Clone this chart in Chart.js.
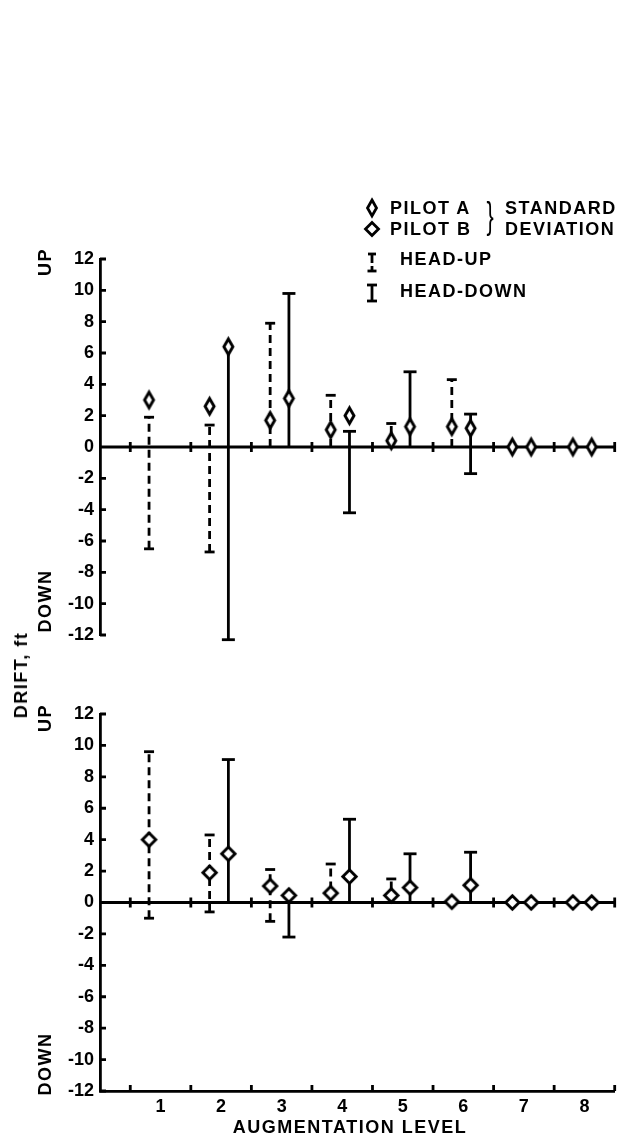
<!DOCTYPE html>
<html>
<head>
<meta charset="utf-8">
<script src="https://cdn.jsdelivr.net/npm/chart.js@4.4.1/dist/chart.umd.min.js"></script>
<style>
html,body{margin:0;padding:0;background:#fff;}
body{width:624px;height:1143px;position:relative;overflow:hidden;}
canvas{position:absolute;left:0;}
.t{position:absolute;white-space:nowrap;font-family:"Liberation Sans",Arial,sans-serif;font-weight:bold;font-size:18px;line-height:18px;letter-spacing:1.5px;color:#000;}
.rot{transform:translate(-50%,-50%) rotate(-90deg);}
.ctr{transform:translate(-50%,-50%);}
.brace{position:absolute;font-family:"Liberation Sans",Arial,sans-serif;font-weight:normal;font-size:36px;line-height:36px;color:#000;transform:translate(-50%,-50%) scaleX(0.6);}
svg{position:absolute;overflow:visible;}
</style>
</head>
<body>
<canvas id="topChart" width="624" height="660" style="top:0px;width:624px;height:660px"></canvas>
<canvas id="botChart" width="624" height="483" style="top:660px;width:624px;height:483px"></canvas>

<!-- axis side labels -->
<div class="t rot" style="left:21px;top:675px">DRIFT, ft</div>
<div class="t rot" style="left:45px;top:262px">UP</div>
<div class="t rot" style="left:45px;top:601px">DOWN</div>
<div class="t rot" style="left:45px;top:718px">UP</div>
<div class="t rot" style="left:45px;top:1064px">DOWN</div>
<div class="t ctr" style="left:350px;top:1127px">AUGMENTATION LEVEL</div>

<!-- legend -->
<svg style="left:355px;top:190px" width="150" height="120" viewBox="0 0 150 120">
  <polygon points="17,10 21.5,18 17,26 12.5,18" fill="#fff" stroke="#000" stroke-width="2.8"/>
  <polygon points="17,32.5 23.5,39 17,45.5 10.5,39" fill="#fff" stroke="#000" stroke-width="2.8"/>
  <g stroke="#000" stroke-width="2.8" fill="none">
    <line x1="13" y1="64" x2="21" y2="64"/>
    <line x1="17" y1="64" x2="17" y2="73"/>
    <line x1="17" y1="76" x2="17" y2="81"/>
    <line x1="12.5" y1="81" x2="21.5" y2="81"/>
    <line x1="12" y1="95" x2="22" y2="95"/>
    <line x1="17" y1="95" x2="17" y2="111"/>
    <line x1="12" y1="111" x2="22" y2="111"/>
  </g>
</svg>
<div class="t" style="left:390px;top:199px">PILOT A</div>
<div class="t" style="left:390px;top:220px">PILOT B</div>
<div class="brace" style="left:490px;top:216px">}</div>
<div class="t" style="left:505px;top:199px">STANDARD</div>
<div class="t" style="left:505px;top:220px">DEVIATION</div>
<div class="t" style="left:400px;top:250px">HEAD-UP</div>
<div class="t" style="left:400px;top:282px">HEAD-DOWN</div>

<script>
// ---------------- data ----------------
const levels = [1, 2, 3, 4, 5, 6, 7, 8];
const xTickLabels = ['1', '2', '3', '4', '5', '6', '7', '8'];
const xTickMarks = [0.5, 1.5, 2.5, 3.5, 4.5, 5.5, 6.5, 7.5, 8.5];
const yTicks = [-12, -10, -8, -6, -4, -2, 0, 2, 4, 6, 8, 10, 12];

// Pilot A (upper panel): standard deviation markers and bar ends
const pilotA_headUpSD    = [3.0, 2.6, 1.7, 1.1, 0.4, 1.3, 0.0, 0.0];
const pilotA_headUpLow   = [-6.5, -6.7, 0, 0, 0, 0, null, null];
const pilotA_headUpHigh  = [1.9, 1.4, 7.9, 3.3, 1.5, 4.3, null, null];
const pilotA_headDownSD   = [null, 6.4, 3.1, 2.0, 1.3, 1.2, 0.0, 0.0];
const pilotA_headDownLow  = [null, -12.3, 0, -4.2, 0, -1.7, null, null];
const pilotA_headDownHigh = [null, 6.4, 9.8, 1.0, 4.8, 2.1, null, null];

// Pilot B (lower panel)
const pilotB_headUpSD    = [4.0, 1.9, 1.05, 0.6, 0.45, 0.05, 0.0, 0.0];
const pilotB_headUpLow   = [-1.0, -0.6, -1.2, 0, 0, null, null, null];
const pilotB_headUpHigh  = [9.6, 4.3, 2.1, 2.45, 1.5, null, null, null];
const pilotB_headDownSD   = [null, 3.1, 0.45, 1.65, 0.95, 1.1, 0.0, 0.0];
const pilotB_headDownLow  = [null, 0, -2.2, 0, 0, 0, null, null];
const pilotB_headDownHigh = [null, 9.1, 0.45, 5.3, 3.1, 3.2, null, null];

// ---------------- layout / style ----------------
const X_MIN = 0, X_MAX = 8.5;
const OFF_UP = -0.19, OFF_DOWN = 0.12;
const LW = 2.8;
const tickFont = { family: '"Liberation Sans", Arial, sans-serif', size: 18, weight: 'bold' };

function diamondImg(hw, hh, lw) {
  const c = document.createElement('canvas');
  const pad = lw + 3;
  c.width = Math.round(2 * (hw + pad)); c.height = Math.round(2 * (hh + pad));
  const g = c.getContext('2d');
  const cx = c.width / 2, cy = c.height / 2;
  g.beginPath();
  g.moveTo(cx, cy - hh); g.lineTo(cx + hw, cy); g.lineTo(cx, cy + hh); g.lineTo(cx - hw, cy);
  g.closePath();
  g.fillStyle = '#fff'; g.fill();
  g.lineWidth = lw; g.lineJoin = 'miter'; g.strokeStyle = '#000'; g.stroke();
  return c;
}
const markA = diamondImg(4.5, 7.8, 2.9);
const markB = diamondImg(6.7, 6.7, 2.9);

function markers(sd, off, img) {
  const pts = [];
  levels.forEach((l, i) => { if (sd[i] != null) pts.push({ x: l + off, y: sd[i] }); });
  return { data: pts, pointStyle: img, pointRadius: 8, showLine: false, order: 0, clip: false };
}
function bars(low, high, sd, off, dashed, capR) {
  const out = [];
  levels.forEach((l, i) => {
    if (low[i] == null || high[i] == null) return;
    const pts = [{ x: l + off, y: low[i] }, { x: l + off, y: high[i] }];
    const radii = pts.map(p => (p.y === 0 || p.y === sd[i]) ? 0 : capR);
    out.push({
      data: pts, showLine: true, borderColor: '#000', borderWidth: LW,
      borderDash: dashed ? [8, 5] : [], borderCapStyle: 'butt',
      pointStyle: 'line', pointRadius: radii, pointBorderWidth: LW,
      pointBorderColor: '#000', pointBackgroundColor: '#000', order: 1, clip: false
    });
  });
  return out;
}
function panel(upSD, upLow, upHigh, dnSD, dnLow, dnHigh, img) {
  return [
    markers(upSD, OFF_UP, img),
    markers(dnSD, OFF_DOWN, img),
    ...bars(upLow, upHigh, upSD, OFF_UP, true, 5),
    ...bars(dnLow, dnHigh, dnSD, OFF_DOWN, false, 6.5)
  ];
}

const axisDeco = {
  id: 'axisDeco',
  beforeDatasetsDraw(chart, args, opts) {
    const { ctx, chartArea: a, scales: { x, y } } = chart;
    ctx.save();
    ctx.strokeStyle = '#000'; ctx.lineWidth = LW; ctx.lineCap = 'butt';
    const y0 = y.getPixelForValue(0);
    ctx.beginPath();
    ctx.moveTo(a.left, y0); ctx.lineTo(x.getPixelForValue(X_MAX), y0);
    xTickMarks.forEach(v => { const px = x.getPixelForValue(v); ctx.moveTo(px, y0 - 5); ctx.lineTo(px, y0 + 5); });
    yTicks.forEach(v => { const py = y.getPixelForValue(v); ctx.moveTo(a.left, py); ctx.lineTo(a.left + 6, py); });
    if (opts.bottomAxis) {
      xTickMarks.forEach(v => { const px = x.getPixelForValue(v); ctx.moveTo(px, a.bottom); ctx.lineTo(px, a.bottom - 6); });
    }
    ctx.stroke();
    ctx.restore();
  }
};

function makeChart(id, datasets, o) {
  return new Chart(document.getElementById(id), {
    type: 'scatter',
    data: { datasets },
    options: {
      responsive: false, animation: false, devicePixelRatio: 1, events: [],
      layout: { padding: o.padding },
      plugins: { legend: { display: false }, tooltip: { enabled: false }, axisDeco: { bottomAxis: o.showX } },
      scales: {
        x: {
          type: 'linear', min: X_MIN, max: X_MAX, display: o.showX,
          grid: { display: false, drawTicks: false },
          border: { display: o.showX, color: '#000', width: LW },
          afterBuildTicks: s => { s.ticks = levels.map(v => ({ value: v })); },
          afterFit: s => { s.height = o.xHeight; },
          ticks: { color: '#000', font: tickFont, padding: 5, maxRotation: 0, autoSkip: false,
                   callback: v => { const k = levels.indexOf(v); return k >= 0 ? xTickLabels[k] : ''; } }
        },
        y: {
          type: 'linear', min: -12, max: 12,
          grid: { display: false, drawTicks: false },
          border: { display: true, color: '#000', width: LW },
          afterBuildTicks: s => { s.ticks = yTicks.map(v => ({ value: v })); },
          afterFit: s => { s.width = 100; },
          ticks: { color: '#000', font: tickFont, padding: 6, callback: v => String(v) }
        }
      }
    },
    plugins: [axisDeco]
  });
}

makeChart('topChart',
  panel(pilotA_headUpSD, pilotA_headUpLow, pilotA_headUpHigh, pilotA_headDownSD, pilotA_headDownLow, pilotA_headDownHigh, markA),
  { padding: { top: 259, bottom: 25, left: 0, right: 3 }, showX: false, xHeight: 0 });

makeChart('botChart',
  panel(pilotB_headUpSD, pilotB_headUpLow, pilotB_headUpHigh, pilotB_headDownSD, pilotB_headDownLow, pilotB_headDownHigh, markB),
  { padding: { top: 54, bottom: 0, left: 0, right: 3 }, showX: true, xHeight: 52 });
</script>
</body>
</html>
